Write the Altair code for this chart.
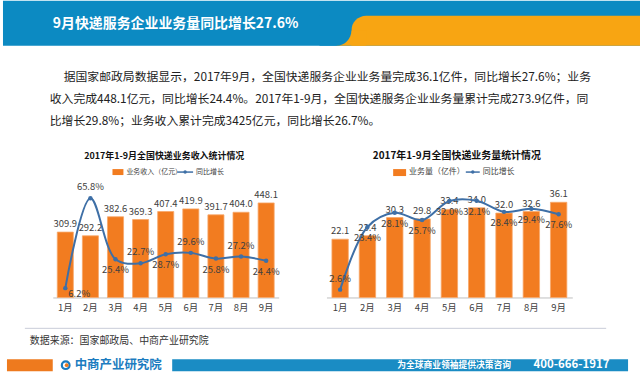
import altair as alt
import pandas as pd

FONT = "Noto Sans CJK SC"

# ---------------- data ----------------
months = ["1月", "2月", "3月", "4月", "5月", "6月", "7月", "8月", "9月"]
revenue = [309.9, 292.2, 382.6, 369.3, 407.4, 419.9, 391.7, 404.0, 448.1]
revenue_growth = [6.2, 65.8, 25.4, 22.7, 28.7, 29.6, 25.8, 27.2, 24.4]
volume = [22.1, 23.4, 30.3, 29.8, 33.4, 34.0, 32.0, 32.6, 36.1]
volume_growth = [2.6, 23.4, 28.1, 25.7, 32.0, 32.1, 28.4, 29.4, 27.6]

rev_ticks = [0, 100, 200, 300, 400, 500]
rev_pct_ticks = [0, 10, 20, 30, 40, 50, 60, 70]
vol_ticks = [0, 5, 10, 15, 20, 25, 30, 35, 40]
vol_pct_ticks = [0, 5, 10, 15, 20, 25, 30, 35]

header_title = "9月快递服务企业业务量同比增长27.6%"
paragraph = [
    "据国家邮政局数据显示，2017年9月，全国快递服务企业业务量完成36.1亿件，同比增长27.6%；业务",
    "收入完成448.1亿元，同比增长24.4%。2017年1-9月，全国快递服务企业业务量累计完成273.9亿件，同",
    "比增长29.8%；业务收入累计完成3425亿元，同比增长26.7%。",
]
left_title = "2017年1-9月全国快递业务收入统计情况"
right_title = "2017年1-9月全国快递业务量统计情况"
left_bar_legend = "业务收入（亿元）"
right_bar_legend = "业务量（亿件）"
line_legend = "同比增长"
source_text = "数据来源：国家邮政局、中商产业研究院"
brand = "中商产业研究院"
slogan = "为全球商业领袖提供决策咨询"
phone = "400-666-1917"

# ---------------- styles ----------------
BLUE_HEAD = "#0C8AC2"
ORANGE_HEAD = "#F8A512"
BAR = "#F27C20"
BAR_EDGE = "#F8A86A"
LINE = "#3E6FA6"
AXIS = "#BFBFBF"
LABEL = "#404040"

one = pd.DataFrame({"k": [0]})


def txt(s, x, y, size, color, weight="normal", align="left"):
    return alt.Chart(one).mark_text(
        text=s, fontSize=size, color=color, fontWeight=weight,
        align=align, baseline="middle", font=FONT
    ).encode(x=alt.value(x), y=alt.value(y))


def rect(x, x2, y, y2, color, **kw):
    return alt.Chart(one).mark_rect(color=color, **kw).encode(
        x=alt.value(x), x2=alt.value(x2), y=alt.value(y), y2=alt.value(y2))


def rule(x, x2, y, color, width):
    return alt.Chart(one).mark_rule(color=color, strokeWidth=width).encode(
        x=alt.value(x), x2=alt.value(x2), y=alt.value(y))


def dot(cx, cy, size, color):
    return alt.Chart(one).mark_point(filled=True, size=size, color=color, opacity=1).encode(
        x=alt.value(cx), y=alt.value(cy))


# ---------------- page decorations (whole page coordinates) ----------------
deco_items = [
    # header band with orange S-shaped sweep
    rect(0, 640, 0, 45, BLUE_HEAD),
    rect(350, 640, 15, 45, ORANGE_HEAD, cornerRadiusTopLeft=15),
    rect(335, 365, 30, 45, ORANGE_HEAD),
    rect(318, 350, 15, 45, BLUE_HEAD, cornerRadiusBottomRight=15),
    txt(header_title, 50, 23, 14, "white", "bold"),
    # paragraph
    txt(paragraph[0], 61, 77, 11.9, "#222222"),
    txt(paragraph[1], 47, 99, 11.9, "#222222"),
    txt(paragraph[2], 47, 121, 11.9, "#222222"),
    # chart titles and legends
    txt(left_title, 162, 156, 9, "#111111", "bold", "center"),
    txt(right_title, 456, 156, 10, "#111111", "bold", "center"),
    rect(110, 121, 169, 175, BAR),
    txt(left_bar_legend, 124, 172, 7, "#404040"),
    rule(175, 191, 172, LINE, 1.5),
    dot(183, 172, 12, LINE),
    txt(line_legend, 194, 172, 7, "#404040"),
    rect(392, 405, 169, 176, BAR),
    txt(right_bar_legend, 408, 172, 8, "#404040"),
    rule(465, 479, 172, LINE, 1.5),
    dot(472, 172, 12, LINE),
    txt(line_legend, 482, 172, 8, "#404040"),
    # footer
    rule(22, 606, 329, "#C9CCD8", 1),
    txt(source_text, 27, 342, 10, "#333333"),
    rect(4, 50, 360, 372, "#EE7A1E"),
    alt.Chart(one).mark_point(shape="circle", size=60, stroke="#1B7CC0", strokeWidth=2.2,
                              filled=False, opacity=1).encode(x=alt.value(63), y=alt.value(366)),
    dot(64, 366, 14, "#EE7A1E"),
    txt(brand, 72, 366, 12.5, "#1B7CC0", "bold"),
    rect(170, 628, 360, 372, "#1A8CC4"),
    txt(slogan, 396, 366, 8.8, "white", "bold"),
    txt(phone, 533, 366, 11.5, "white", "bold"),
]
header = alt.layer(*deco_items).properties(width=640, height=192)


# ---------------- data charts ----------------
def combo(values, growth, ticks, pct_ticks, width, pad, below_all, first_dx, first_dy):
    df = pd.DataFrame({"month": months, "value": values, "growth": growth,
                       "idx": list(range(len(months)))})
    base = alt.Chart(df).transform_calculate(
        vlabel="format(datum.value, '.1f')",
        plabel="format(datum.growth, '.1f') + '%'",
    )
    x = alt.X("month:N", sort=months,
              scale=alt.Scale(paddingInner=pad, paddingOuter=pad / 2),
              axis=alt.Axis(title=None, labelAngle=0, ticks=False, domainColor=AXIS,
                            labelFontSize=9.5, labelColor=LABEL, labelPadding=5,
                            labelFont=FONT))
    ybar = alt.Y("value:Q", scale=alt.Scale(domain=[ticks[0], ticks[-1]], nice=False),
                 axis=alt.Axis(title=None, orient="left", values=ticks, grid=False,
                               domainColor=AXIS, tickColor=AXIS, tickSize=3,
                               labelFontSize=9.5, labelColor=LABEL, labelPadding=2,
                               labelFont=FONT))
    bars = base.mark_bar(color=BAR, stroke=BAR_EDGE, strokeWidth=0.8).encode(x=x, y=ybar)
    bar_text = base.mark_text(baseline="bottom", dy=-3, fontSize=9.5, color=LABEL,
                              font=FONT).encode(
        x=x, y=alt.Y("value:Q", axis=None), text="vlabel:N")
    left_layer = alt.layer(bars, bar_text)

    yline = alt.Y("growth:Q", scale=alt.Scale(domain=[pct_ticks[0], pct_ticks[-1]], nice=False),
                  axis=alt.Axis(title=None, orient="right", values=pct_ticks, grid=False,
                                domainColor=AXIS, tickColor=AXIS, tickSize=3,
                                labelExpr="datum.value + '%'",
                                labelFontSize=9.5, labelColor=LABEL, labelPadding=2,
                                labelFont=FONT))
    line = base.mark_line(interpolate="catmull-rom", color=LINE, strokeWidth=2).encode(x=x, y=yline)
    pts = base.mark_point(filled=True, size=20, color=LINE, opacity=1).encode(
        x=x, y=alt.Y("growth:Q", axis=None))
    ygr = alt.Y("growth:Q", axis=None)
    first = base.transform_filter("datum.idx == 0").mark_text(
        dx=first_dx, dy=first_dy, fontSize=9.5, color=LABEL, font=FONT).encode(
        x=x, y=ygr, text="plabel:N")
    if below_all:
        rest = [base.transform_filter("datum.idx > 0").mark_text(
            dy=11, fontSize=9.5, color=LABEL, font=FONT).encode(x=x, y=ygr, text="plabel:N")]
    else:
        rest = [
            base.transform_filter("datum.idx > 0 && datum.idx % 2 == 0").mark_text(
                dy=11, fontSize=9.5, color=LABEL, font=FONT).encode(x=x, y=ygr, text="plabel:N"),
            base.transform_filter("datum.idx % 2 == 1").mark_text(
                dy=-11, fontSize=9.5, color=LABEL, font=FONT).encode(x=x, y=ygr, text="plabel:N"),
        ]
    right_layer = alt.layer(line, pts, first, *rest)
    return alt.layer(left_layer, right_layer).resolve_scale(y="independent").properties(
        width=width, height=106)


left_chart = combo(revenue, revenue_growth, rev_ticks, rev_pct_ticks, 227, 0.36, False, 14, 6)
right_chart = combo(volume, volume_growth, vol_ticks, vol_pct_ticks, 247, 0.4, True, 0, -11)


def spacer(w):
    return alt.Chart(one).mark_point(opacity=0).encode(
        x=alt.value(0), y=alt.value(0)).properties(width=w, height=106)


row = alt.hconcat(spacer(50), left_chart, spacer(48), right_chart, spacer(68),
                  spacing=0, bounds="flush")

chart = alt.vconcat(header, row, spacing=0, bounds="flush").properties(
    padding=0, background="white"
).configure_view(strokeWidth=0).configure_text(font=FONT)

chart.save("out.html", embed_options={"renderer": "svg", "actions": False})
